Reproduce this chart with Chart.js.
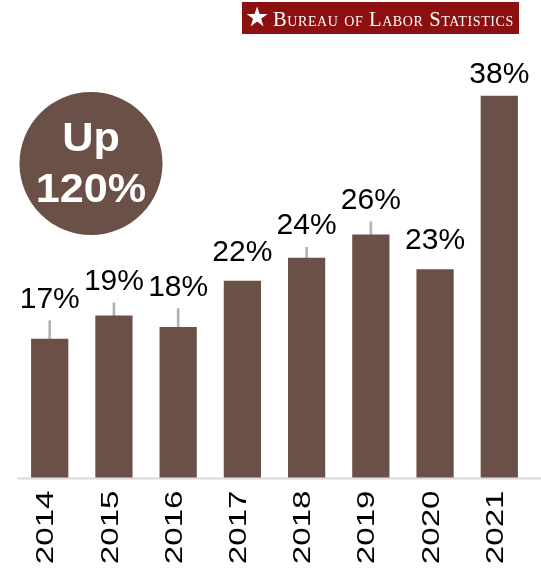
<!DOCTYPE html>
<html>
<head>
<meta charset="utf-8">
<script src="https://cdn.jsdelivr.net/npm/chart.js@4.4.1/dist/chart.umd.min.js"></script>
<style>
  html, body { margin: 0; padding: 0; background: #fff; }
  #wrap { position: relative; width: 541px; height: 572px; }
  #myChart { position: absolute; left: 0; top: 0; }
  .bls {
    position: absolute; left: 242px; top: 2px; width: 277px; height: 32px;
    background: #8c1010; color: #fff;
  }
  .bls .star { position: absolute; left: 3px; top: -1px; font-size: 27px; line-height: 32px; font-family: "DejaVu Sans"; }
  .bls .name {
    position: absolute; left: 31px; top: 0; line-height: 34px;
    font-family: "Liberation Serif", serif; font-size: 20.5px; font-variant: small-caps;
    letter-spacing: 0.6px; white-space: nowrap;
  }
</style>
</head>
<body>
<div id="wrap">
  <canvas id="myChart" width="541" height="572"></canvas>
  <div class="bls"><span class="star">★</span><span class="name">Bureau of Labor Statistics</span></div>
</div>
<script>
const years = ["2014", "2015", "2016", "2017", "2018", "2019", "2020", "2021"];
const shares = [17, 19, 18, 22, 24, 26, 23, 38];
// upper end of the error bar, null where none is shown
const errHigh = [18.55, 20.1, 19.6, null, 24.9, 27.1, null, null];
const growthText = ["Up", "120%"];

const brown = "#6b5048";

// floating bars for the error ranges, symmetric around the value
const errRanges = errHigh.map((hi, i) => hi === null ? null : [2 * shares[i] - hi, hi]);

const labelPlugin = {
  id: "labels",
  beforeDatasetsDraw(chart) {
    // baseline runs on to the right edge of the canvas
    const ctx = chart.ctx;
    const area = chart.chartArea;
    ctx.save();
    ctx.strokeStyle = "#d9d9d9";
    ctx.lineWidth = 2;
    ctx.beginPath();
    ctx.moveTo(area.left, area.bottom + 1);
    ctx.lineTo(chart.width, area.bottom + 1);
    ctx.stroke();
    ctx.restore();
  },
  afterDraw(chart) {
    const ctx = chart.ctx;
    const x = chart.scales.x;
    const y = chart.scales.y;
    const area = chart.chartArea;
    ctx.save();

    // value labels above each bar (or above its error bar)
    ctx.fillStyle = "#000";
    ctx.font = "30px 'Liberation Sans'";
    ctx.textAlign = "center";
    ctx.textBaseline = "alphabetic";
    shares.forEach((v, i) => {
      const hi = errHigh[i];
      let by = hi === null ? y.getPixelForValue(v) - 20 : y.getPixelForValue(hi) - 13;
      by = Math.max(by, area.top + 22);
      ctx.fillText(v + "%", x.getPixelForValue(i), by);
    });

    // rotated year labels under the axis
    ctx.font = "24px 'Liberation Sans'";
    ctx.textAlign = "right";
    years.forEach((yr, i) => {
      ctx.save();
      ctx.translate(x.getPixelForValue(i) + 3.6, area.bottom + 13);
      ctx.rotate(-Math.PI / 2);
      ctx.scale(1.38, 1);
      ctx.fillText(yr, 0, 0);
      ctx.restore();
    });

    // "Up 120%" badge
    ctx.fillStyle = brown;
    ctx.beginPath();
    ctx.arc(91, 163.5, 71.5, 0, Math.PI * 2);
    ctx.fill();
    ctx.fillStyle = "#fff";
    ctx.font = "bold 40px 'Liberation Sans'";
    ctx.textAlign = "center";
    [[growthText[0], 150.7], [growthText[1], 201.7]].forEach(([t, ty]) => {
      ctx.save();
      ctx.translate(91, ty);
      ctx.scale(1.08, 1);
      ctx.fillText(t, 0, 0);
      ctx.restore();
    });
    ctx.restore();
  }
};

const config = {
  type: "bar",
  data: {
    labels: years,
    datasets: [{
      data: shares,
      backgroundColor: brown,
      barPercentage: 0.58,
      categoryPercentage: 1,
      grouped: false,
      borderSkipped: false,
    }, {
      data: errRanges,
      backgroundColor: "#b3b3b3",
      barThickness: 2,
      grouped: false,
    }],
  },
  options: {
    responsive: false,
    animation: false,
    layout: {
      padding: { left: 17.6, right: 9.6, top: 61, bottom: 94.5 }
    },
    plugins: {
      legend: { display: false },
      tooltip: { enabled: false },
    },
    scales: {
      x: {
        grid: { display: false, drawTicks: false },
        border: { display: false },
        ticks: { display: false },
      },
      y: {
        display: false,
        min: 5,
        max: 41,
      }
    }
  },
  plugins: [labelPlugin],
};

const ctx = document.getElementById("myChart").getContext("2d");
const myChart = new Chart(ctx, config);
</script>
</body>
</html>
